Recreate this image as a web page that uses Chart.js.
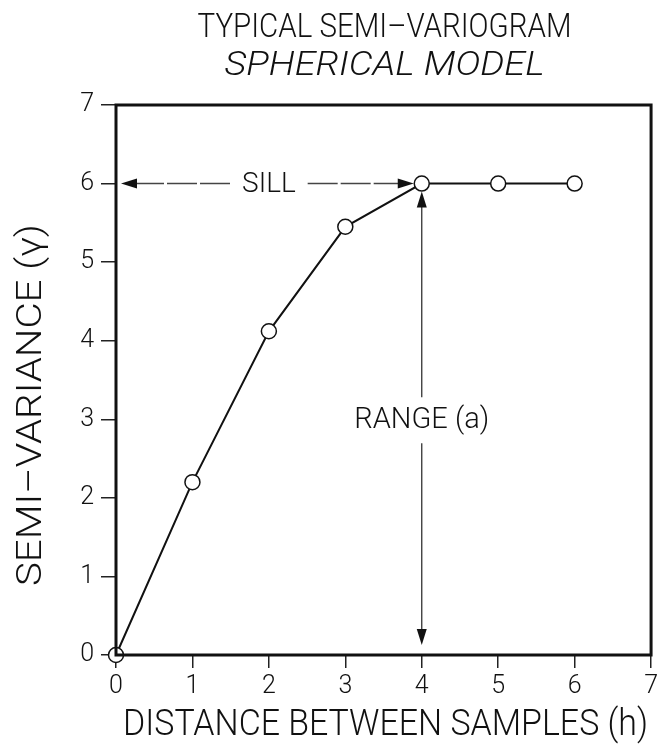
<!DOCTYPE html>
<html>
<head>
<meta charset="utf-8">
<script src="https://cdn.jsdelivr.net/npm/chart.js@4"></script>
<style>
  html, body { margin: 0; padding: 0; background: #fff; }
  #wrap { width: 662px; height: 746px; }
</style>
</head>
<body>
<div id="wrap"><canvas id="chart" width="662" height="746"></canvas></div>
<script>
// Data
const distance = [0, 1, 2, 3, 4, 5, 6];
const semiVariance = [0, 2.2, 4.12, 5.45, 6, 6, 6];
const xTicks = [0, 1, 2, 3, 4, 5, 6, 7];
const yTicks = [0, 1, 2, 3, 4, 5, 6, 7];
const sillValue = 6;
const rangeValue = 4;
const sillLabelAt = 2;   // x value where "SILL" sits
const rangeLabelAt = 3;  // y value where "RANGE (a)" sits

const FONT = 'Roboto, "DejaVu Sans", sans-serif';

function arrowHead(ctx, x, y, dx, dy) {
  const len = 16, half = 5;
  const n = Math.hypot(dx, dy);
  const ux = dx / n, uy = dy / n;
  ctx.beginPath();
  ctx.moveTo(x, y);
  ctx.lineTo(x - ux * len - uy * half, y - uy * len + ux * half);
  ctx.lineTo(x - ux * len + uy * half, y - uy * len - ux * half);
  ctx.closePath();
  ctx.fill();
}

// draw text squeezed/stretched to a given width
function fitText(ctx, text, x, y, font, width) {
  ctx.font = font;
  const w = ctx.measureText(text).width;
  ctx.save();
  ctx.translate(x, y);
  ctx.scale(width / w, 1);
  ctx.fillText(text, 0, 0);
  ctx.restore();
}

// Titles, frame and the sill / range annotations
const extras = {
  id: 'extras',
  afterDraw(chart) {
    const ctx = chart.ctx;
    const xs = chart.scales.x, ys = chart.scales.y;
    const a = chart.chartArea;
    const cx = (a.left + a.right) / 2;
    ctx.save();
    ctx.fillStyle = '#111';
    ctx.textAlign = 'center';
    ctx.textBaseline = 'alphabetic';
    fitText(ctx, 'TYPICAL SEMI\u2013VARIOGRAM', cx + 1, 37, '300 33px ' + FONT, 374);
    fitText(ctx, 'SPHERICAL MODEL', cx + 1, 75, 'italic 300 33px ' + FONT, 320);

    // y axis title
    ctx.save();
    ctx.translate(41, 405);
    ctx.rotate(-Math.PI / 2);
    fitText(ctx, 'SEMI\u2013VARIANCE (\u03b3)', 0, 0, '300 35px ' + FONT, 362);
    ctx.restore();

    // x axis title
    fitText(ctx, 'DISTANCE BETWEEN SAMPLES (h)', cx + 2, 735, '300 37px ' + FONT, 525);

    // frame
    ctx.strokeStyle = '#111';
    ctx.lineWidth = 3;
    ctx.strokeRect(a.left, a.top, a.right - a.left, a.bottom - a.top);

    // sill arrow (dashed)
    const sy = ys.getPixelForValue(sillValue);
    const sx = xs.getPixelForValue(rangeValue);
    const tx = xs.getPixelForValue(sillLabelAt);
    ctx.font = '300 28px ' + FONT;
    const sw = ctx.measureText('SILL').width;
    ctx.strokeStyle = '#444';
    ctx.fillStyle = '#111';
    ctx.lineWidth = 1.4;
    ctx.setLineDash([30, 3]);
    ctx.beginPath();
    ctx.moveTo(a.left + 18, sy);
    ctx.lineTo(tx - sw / 2 - 12, sy);
    ctx.moveTo(tx + sw / 2 + 12, sy);
    ctx.lineTo(sx - 22, sy);
    ctx.stroke();
    ctx.setLineDash([]);
    arrowHead(ctx, a.left + 5, sy, -1, 0);
    arrowHead(ctx, sx - 8, sy, 1, 0);
    ctx.textBaseline = 'middle';
    ctx.fillText('SILL', tx, sy + 1);

    // range arrow
    const ry = ys.getPixelForValue(rangeLabelAt);
    const by = ys.getPixelForValue(0);
    ctx.strokeStyle = '#333';
    ctx.lineWidth = 1.3;
    ctx.beginPath();
    ctx.moveTo(sx, sy + 22);
    ctx.lineTo(sx, ry - 22);
    ctx.moveTo(sx, ry + 24);
    ctx.lineTo(sx, by - 24);
    ctx.stroke();
    arrowHead(ctx, sx, sy + 8, 0, -1);
    arrowHead(ctx, sx, by - 10, 0, 1);
    fitText(ctx, 'RANGE (a)', sx, ry + 1, '300 29px ' + FONT, 135);
    ctx.restore();
  }
};

new Chart(document.getElementById('chart'), {
  type: 'scatter',
  data: {
    datasets: [{
      data: distance.map((d, i) => ({ x: d, y: semiVariance[i] })),
      showLine: true,
      borderColor: '#111',
      borderWidth: 2,
      pointRadius: 7.5,
      pointBackgroundColor: '#fff',
      pointBorderColor: '#111',
      pointBorderWidth: 1.5,
      clip: false
    }]
  },
  options: {
    responsive: false,
    animation: false,
    layout: { padding: { top: 105, right: 5, left: 0, bottom: 0 } },
    plugins: { legend: { display: false }, tooltip: { enabled: false } },
    scales: {
      x: {
        type: 'linear', min: 0, max: 7,
        afterFit(s) { s.height = 91; },
        afterBuildTicks(s) { s.ticks = xTicks.map(v => ({ value: v })); },
        grid: { drawOnChartArea: false, tickLength: 13, color: '#222', lineWidth: 1.5 },
        border: { display: false },
        ticks: { color: '#111', padding: 4, font: { family: FONT, size: 25, weight: 300 }, maxRotation: 0 }
      },
      y: {
        min: 0, max: 7,
        afterFit(s) { s.width = 116; },
        afterBuildTicks(s) { s.ticks = yTicks.map(v => ({ value: v })); },
        grid: { drawOnChartArea: false, tickLength: 15, color: '#222', lineWidth: 1.5 },
        border: { display: false },
        ticks: { color: '#111', padding: 7, font: { family: FONT, size: 25, weight: 300 } }
      }
    }
  },
  plugins: [extras]
});
</script>
</body>
</html>
